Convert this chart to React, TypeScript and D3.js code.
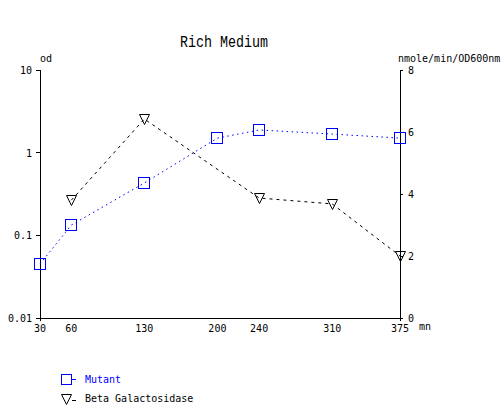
import React from 'react';
import * as d3 from 'd3';

const times = [30, 60, 130, 200, 240, 310, 375];
const mutantOd = [0.045, 0.133, 0.43, 1.5, 1.88, 1.68, 1.5];
const betaTimes = [60, 130, 240, 310, 375];
const betaActivity = [3.8, 6.42, 3.87, 3.68, 2.0];
const leftTicks = [0.01, 0.1, 1, 10];
const leftTickLabels = ['0.01', '0.1', '1', '10'];
const rightTicks = [0, 2, 4, 6, 8];

const W = 502;
const H = 405;
const left = 40, right = 400, top = 70, bottom = 318;
const mono = '"DejaVu Sans Mono", monospace';

export default function App() {
  const x = d3.scaleLinear().domain([30, 375]).range([left, right]);
  const yL = d3.scaleLog().domain([0.01, 10]).range([bottom, top]);
  const yR = d3.scaleLinear().domain([0, 8]).range([bottom, top]);

  const mutantLine = d3.line<number>()
    .x((_, i) => x(times[i]))
    .y(d => yL(d));
  const betaLine = d3.line<number>()
    .x((_, i) => x(betaTimes[i]))
    .y(d => yR(d));

  const tri = (cx: number, cy: number) =>
    `M${cx - 5},${cy - 5}L${cx + 5},${cy - 5}L${cx},${cy + 5}Z`;

  return (
    <svg width={W} height={H} style={{ position: 'absolute', left: 0, top: 0, background: '#fff' }}
      fontFamily={mono} fontSize={10}>
      <text x={224} y={47} textAnchor="middle" fontFamily='"Liberation Mono", monospace'
        fontSize={16} textLength={88} lengthAdjust="spacingAndGlyphs">Rich Medium</text>

      {/* axes */}
      <g stroke="#000" strokeWidth={1} shapeRendering="crispEdges">
        <line x1={left} y1={top} x2={left} y2={bottom + 3} />
        <line x1={right} y1={top} x2={right} y2={bottom + 3} />
        <line x1={left} y1={bottom} x2={right} y2={bottom} />
        {leftTicks.map(t => (
          <line key={t} x1={left - 4} x2={left} y1={yL(t)} y2={yL(t)} />
        ))}
        {rightTicks.map(t => (
          <line key={t} x1={right} x2={right + 3} y1={yR(t)} y2={yR(t)} />
        ))}
      </g>
      {leftTicks.map((t, i) => (
        <text key={t} x={left - 8} y={yL(t) + 4} textAnchor="end">{leftTickLabels[i]}</text>
      ))}
      {rightTicks.map(t => (
        <text key={t} x={right + 8} y={yR(t) + 4}>{t}</text>
      ))}
      {times.map(t => (
        <text key={t} x={x(t)} y={bottom + 14} textAnchor="middle">{t}</text>
      ))}
      <text x={40} y={62}>od</text>
      <text x={398} y={62}>nmole/min/OD600nm</text>
      <text x={419} y={330}>mn</text>

      {/* series */}
      <path d={mutantLine(mutantOd) || ''} fill="none" stroke="#0000ff" strokeWidth={1} strokeDasharray="1.5,3.5" />
      <path d={betaLine(betaActivity) || ''} fill="none" stroke="#000" strokeWidth={1} strokeDasharray="3,4" />
      {mutantOd.map((v, i) => (
        <rect key={i} x={Math.round(x(times[i])) - 5.5} y={Math.round(yL(v)) - 5.5} width={11} height={11}
          fill="none" stroke="#0000ff" strokeWidth={1} />
      ))}
      {betaActivity.map((v, i) => (
        <path key={i} d={tri(Math.round(x(betaTimes[i])) + 0.5, Math.round(yR(v)) + 0.5)}
          fill="none" stroke="#000" strokeWidth={1} />
      ))}

      {/* legend */}
      <rect x={61.5} y={374.5} width={10} height={10} fill="none" stroke="#0000ff" strokeWidth={1} />
      <line x1={72} x2={76} y1={379.5} y2={379.5} stroke="#0000ff" />
      <text x={85} y={383} fill="#0000ff">Mutant</text>
      <path d={tri(66.5, 399.5)} fill="none" stroke="#000" strokeWidth={1} />
      <line x1={72} x2={76} y1={400.5} y2={400.5} stroke="#000" />
      <text x={85} y={402}>Beta Galactosidase</text>
    </svg>
  );
}
